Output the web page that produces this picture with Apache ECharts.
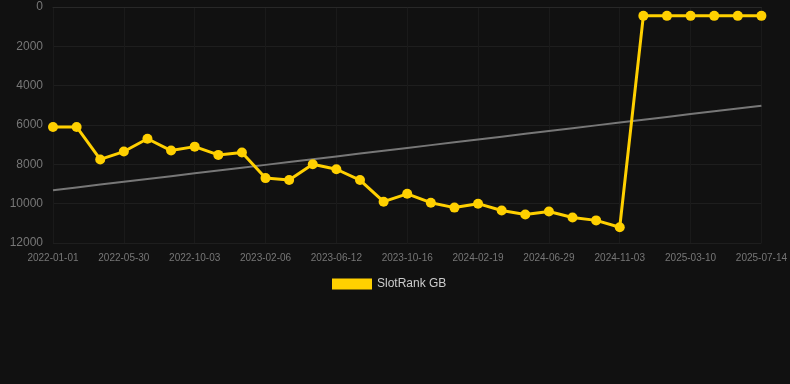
<!DOCTYPE html>
<html>
<head>
<meta charset="utf-8">
<script src="https://cdn.jsdelivr.net/npm/echarts@6/dist/echarts.min.js"></script>
<style>
html,body{margin:0;padding:0;background:#111111;}
#c{width:790px;height:384px;}
</style>
</head>
<body>
<div id="c"></div>
<script>
var categories = [
  '2022-01-01','2022-03-07','2022-04-18','2022-05-30','2022-07-11','2022-08-22',
  '2022-10-03','2022-11-14','2022-12-26','2023-02-06','2023-03-20','2023-05-01',
  '2023-06-12','2023-07-24','2023-09-04','2023-10-16','2023-11-27','2024-01-08',
  '2024-02-19','2024-04-01','2024-05-13','2024-06-29','2024-08-10','2024-09-21',
  '2024-11-03','2024-12-16','2025-01-27','2025-03-10','2025-04-21','2025-06-02',
  '2025-07-14'
];
var rankValues = [
  6100, 6100, 7750, 7350, 6700, 7300,
  7100, 7520, 7400, 8700, 8800, 8000,
  8250, 8800, 9900, 9500, 9950, 10200,
  10000, 10350, 10550, 10400, 10700, 10850,
  11200, 450, 450, 450, 450, 450,
  450
];
var seriesName = 'SlotRank GB';

// linear regression trend over the series
var n = rankValues.length, sx = 0, sy = 0, sxy = 0, sxx = 0;
for (var i = 0; i < n; i++) { sx += i; sy += rankValues[i]; sxy += i * rankValues[i]; sxx += i * i; }
var slope = (n * sxy - sx * sy) / (n * sxx - sx * sx);
var intercept = (sy - slope * sx) / n;
var trendFull = rankValues.map(function (v, i) { return +(intercept + slope * i).toFixed(1); });

var chart = echarts.init(document.getElementById('c'), null, {renderer: 'canvas'});
chart.setOption({
  backgroundColor: '#111111',
  animation: false,
  grid: {left: 53, right: 28, top: 7, height: 236, containLabel: false},
  legend: {
    data: [{name: seriesName, icon: 'rect'}],
    top: 273, left: 327,
    itemWidth: 40, itemHeight: 11,
    textStyle: {color: '#cccccc', fontSize: 12, fontFamily: 'Liberation Sans, Arial, sans-serif'}
  },
  xAxis: {
    type: 'category',
    data: categories,
    boundaryGap: false,
    axisLine: {show: true, lineStyle: {color: '#282828'}},
    axisTick: {show: false},
    axisLabel: {color: '#777777', fontSize: 10, margin: 10, interval: 2, fontFamily: 'Liberation Sans, Arial, sans-serif'},
    splitLine: {show: true, interval: 2, lineStyle: {color: '#1a1a1a', width: 1}}
  },
  yAxis: {
    type: 'value',
    inverse: true,
    min: 0, max: 12000, interval: 2000,
    axisLine: {show: false},
    axisTick: {show: false},
    axisLabel: {color: '#777777', fontSize: 12, margin: 10, fontFamily: 'Liberation Sans, Arial, sans-serif',
      formatter: function (v) { return String(v); }},
    splitLine: {show: true, lineStyle: {color: '#1e1e1e', width: 1}}
  },
  series: [
    {
      name: 'trend',
      type: 'line',
      data: trendFull,
      symbol: 'none',
      silent: true,
      lineStyle: {color: '#777777', width: 2},
      z: 1
    },
    {
      name: seriesName,
      type: 'line',
      data: rankValues,
      symbol: 'circle',
      symbolSize: 10,
      itemStyle: {color: '#FFD000'},
      lineStyle: {color: '#FFD000', width: 3},
      z: 2
    }
  ]
});
</script>
</body>
</html>
